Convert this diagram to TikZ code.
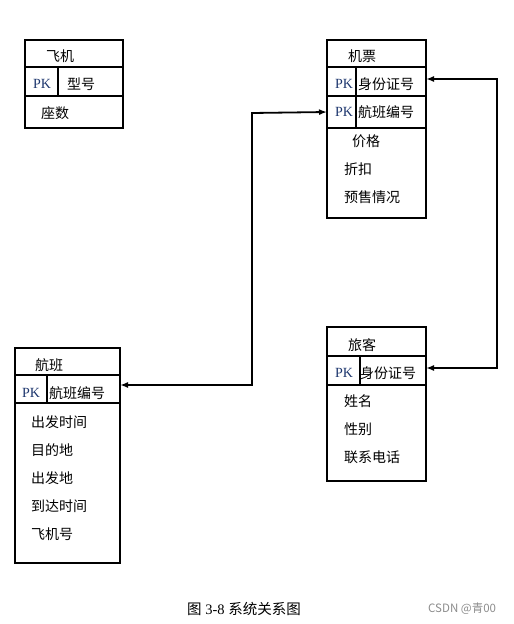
\documentclass[tikz,border=0pt]{standalone}
\usepackage{fontspec}
\setmainfont{Liberation Serif}
\newfontfamily\cjk{Noto Sans CJK SC}
\usetikzlibrary{arrows.meta}
\definecolor{pkblue}{RGB}{30,55,110}
\begin{document}
\begin{tikzpicture}[x=1pt,y=-1pt,
  rowbox/.style={draw,line width=2pt,anchor=north west,inner sep=0pt,outer sep=0pt},
  txt/.style={anchor=west,inner sep=0pt,font=\cjk\fontsize{14}{15}\selectfont},
  pk/.style={anchor=west,inner sep=0pt,text=pkblue,font=\fontsize{14}{15}\selectfont},
  conn/.style={line width=1.8pt,{Latex[length=8pt,width=6pt]}-{Latex[length=8pt,width=6pt]}}]
\useasboundingbox (0,0) rectangle (514,624);
% ---- 飞机
\node[rowbox,minimum width=98pt,minimum height=27pt] (fjT) at (25,40) {};
\node[rowbox,minimum width=98pt,minimum height=29pt] (fjP) at (25,67) {};
\node[rowbox,minimum width=98pt,minimum height=32pt] (fjA) at (25,96) {};
\draw[line width=2pt] (58,67) -- (58,96);
\node[txt] (fjt) at (46,56) {飞机};
\node[pk] (fjpk) at (33,84) {PK};
\node[txt] (fjk) at (67,84) {型号};
\node[txt] (fja) at (41,113) {座数};
% ---- 机票
\node[rowbox,minimum width=99pt,minimum height=27pt] (jpT) at (327,40) {};
\node[rowbox,minimum width=99pt,minimum height=29pt] (jpP1) at (327,67) {};
\node[rowbox,minimum width=99pt,minimum height=32pt] (jpP2) at (327,96) {};
\node[rowbox,minimum width=99pt,minimum height=90pt] (jpA) at (327,128) {};
\draw[line width=2pt] (356,67) -- (356,128);
\node[txt] (jpt) at (348,56) {机票};
\node[pk] (jppk1) at (335,84) {PK};
\node[txt] (jpk1) at (358,84) {身份证号};
\node[pk] (jppk2) at (335,112) {PK};
\node[txt] (jpk2) at (358,112) {航班编号};
\node[txt] (jpa1) at (352,141) {价格};
\node[txt] (jpa2) at (344,169) {折扣};
\node[txt] (jpa3) at (344,197) {预售情况};
% ---- 航班
\node[rowbox,minimum width=105pt,minimum height=27pt] (hbT) at (15,348) {};
\node[rowbox,minimum width=105pt,minimum height=28pt] (hbP) at (15,375) {};
\node[rowbox,minimum width=105pt,minimum height=160pt] (hbA) at (15,403) {};
\draw[line width=2pt] (47,375) -- (47,403);
\node[txt] (hbt) at (35,365) {航班};
\node[pk] (hbpk) at (22,393) {PK};
\node[txt] (hbk) at (49,393) {航班编号};
\node[txt] (hba1) at (31,422) {出发时间};
\node[txt] (hba2) at (31,450) {目的地};
\node[txt] (hba3) at (31,478) {出发地};
\node[txt] (hba4) at (31,506) {到达时间};
\node[txt] (hba5) at (31,534) {飞机号};
% ---- 旅客
\node[rowbox,minimum width=99pt,minimum height=29pt] (lkT) at (327,327) {};
\node[rowbox,minimum width=99pt,minimum height=29pt] (lkP) at (327,356) {};
\node[rowbox,minimum width=99pt,minimum height=96pt] (lkA) at (327,385) {};
\draw[line width=2pt] (360,356) -- (360,385);
\node[txt] (lkt) at (348,345) {旅客};
\node[pk] (lkpk) at (335,373) {PK};
\node[txt] (lkk) at (360,373) {身份证号};
\node[txt] (lka1) at (344,401) {姓名};
\node[txt] (lka2) at (344,429) {性别};
\node[txt] (lka3) at (344,457) {联系电话};
% ---- connectors
\coordinate (c1a) at (252,385);
\coordinate (c1b) at (252,113);
\coordinate (c2a) at (497,79);
\coordinate (c2b) at (497,368);
\draw[conn] (hbP.east |- c1a) -- (c1a) -- (c1b) -- (jpP2.west |- 0,112);
\draw[conn] (jpP1.east |- 0,79) -- (c2a) -- (c2b) -- (lkP.east |- 0,368);
% ---- caption
\node[anchor=west,inner sep=0pt,font=\fontsize{14.5}{15}\selectfont] (cap) at (187,609) {{\cjk 图} 3-8 {\cjk 系统关系图}};
\node[anchor=west,inner sep=0pt,text=black!45,font=\cjk\fontsize{11.5}{12}\selectfont] (wm) at (428,609) {CSDN @青00};
\end{tikzpicture}
\end{document}
